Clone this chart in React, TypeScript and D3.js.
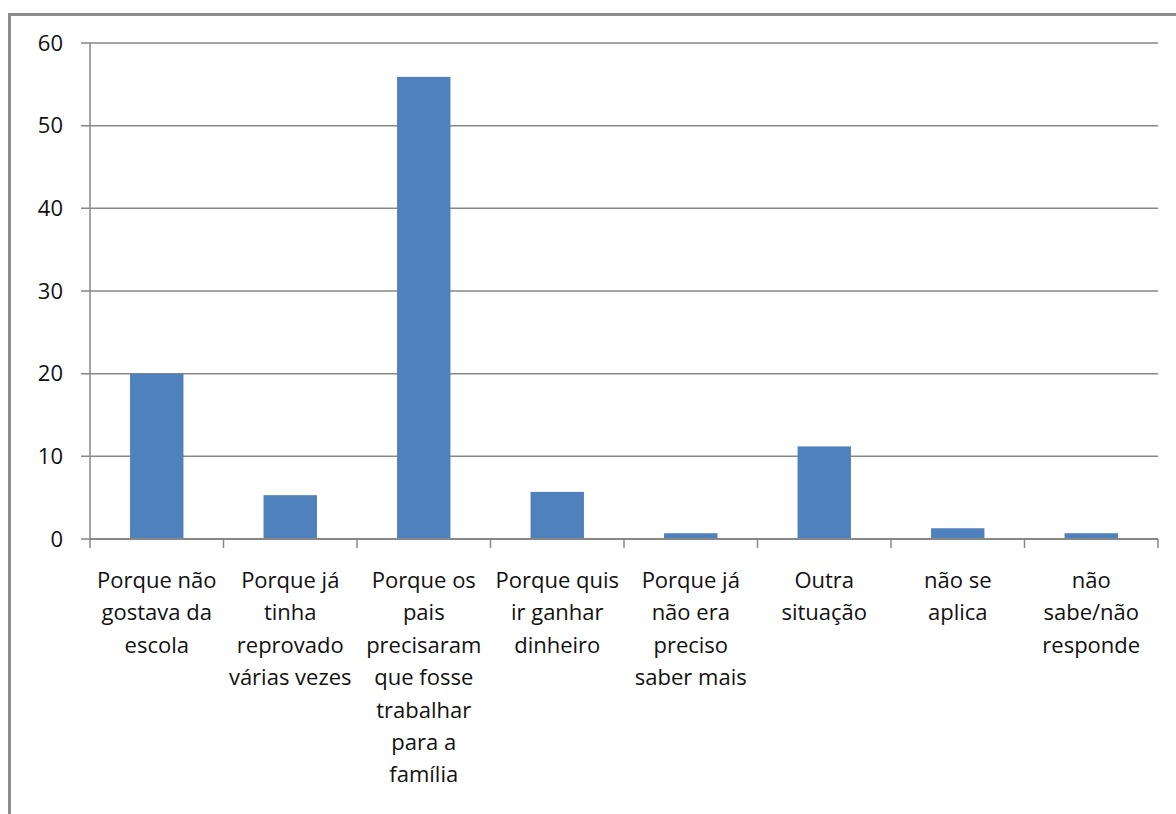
import React, { useEffect, useRef } from 'react';
import * as d3 from 'd3';

const categories: string[][] = [
  ['Porque não', 'gostava da', 'escola'],
  ['Porque já', 'tinha', 'reprovado', 'várias vezes'],
  ['Porque os', 'pais', 'precisaram', 'que fosse', 'trabalhar', 'para a', 'família'],
  ['Porque quis', 'ir ganhar', 'dinheiro'],
  ['Porque já', 'não era', 'preciso', 'saber mais'],
  ['Outra', 'situação'],
  ['não se', 'aplica'],
  ['não', 'sabe/não', 'responde'],
];
const values = [20, 5.3, 55.9, 5.7, 0.7, 11.2, 1.3, 0.7];
const yTicks = [0, 10, 20, 30, 40, 50, 60];

const W = 1176;
const H = 814;

const App: React.FC = () => {
  const svgRef = useRef<SVGSVGElement>(null);

  useEffect(() => {
    document.body.style.margin = '0';
    if (!svgRef.current) return;
    const svg = d3.select(svgRef.current);
    svg.selectAll('*').remove();

    const margin = { top: 43, right: 18, bottom: 275, left: 90 };
    const width = W - margin.left - margin.right;
    const height = H - margin.top - margin.bottom;
    const font = '"Open Sans", sans-serif';
    const gray = '#878787';

    svg.attr('width', W).attr('height', H);

    // outer chart frame (cut off at right/bottom)
    svg.append('path')
      .attr('d', `M9.5,${H} V14.5 H${W}`)
      .attr('fill', 'none')
      .attr('stroke', '#8c8c8c')
      .attr('stroke-width', 3);

    const g = svg.append('g').attr('transform', `translate(${margin.left},${margin.top})`);

    const x = d3.scaleBand<number>()
      .domain(d3.range(categories.length))
      .range([0, width])
      .paddingInner(0.6)
      .paddingOuter(0.3);

    const y = d3.scaleLinear().domain([0, 60]).range([height, 0]);

    // gridlines + left ticks
    g.append('g')
      .selectAll('line')
      .data(yTicks)
      .join('line')
      .attr('x1', -9)
      .attr('x2', width)
      .attr('y1', d => y(d))
      .attr('y2', d => y(d))
      .attr('stroke', gray)
      .attr('stroke-width', 1.5);

    g.append('g')
      .selectAll('text')
      .data(yTicks)
      .join('text')
      .attr('x', -27)
      .attr('y', d => y(d))
      .attr('dy', '0.35em')
      .attr('text-anchor', 'end')
      .style('font-family', font)
      .style('font-size', '22px')
      .style('fill', '#111')
      .text(d => d);

    // bars
    g.append('g')
      .selectAll('rect')
      .data(values)
      .join('rect')
      .attr('x', (d, i) => x(i)!)
      .attr('width', x.bandwidth())
      .attr('y', d => y(d))
      .attr('height', d => height - y(d))
      .attr('fill', '#4f81bd');

    // y axis line
    g.append('line')
      .attr('x1', 0).attr('x2', 0)
      .attr('y1', 0).attr('y2', height)
      .attr('stroke', gray)
      .attr('stroke-width', 1.5);

    // x axis line and category ticks
    g.append('line')
      .attr('x1', 0).attr('x2', width)
      .attr('y1', height).attr('y2', height)
      .attr('stroke', gray)
      .attr('stroke-width', 2);

    const step = width / categories.length;
    g.append('g')
      .selectAll('line')
      .data(d3.range(categories.length + 1))
      .join('line')
      .attr('x1', d => d * step)
      .attr('x2', d => d * step)
      .attr('y1', height)
      .attr('y2', height + 9)
      .attr('stroke', gray)
      .attr('stroke-width', 1.5);

    // category labels
    const labels = g.append('g')
      .selectAll('text')
      .data(categories)
      .join('text')
      .attr('transform', (d, i) => `translate(${x(i)! + x.bandwidth() / 2},${height + 49})`)
      .attr('text-anchor', 'middle')
      .style('font-family', font)
      .style('font-size', '22px')
      .style('fill', '#111');

    labels.selectAll('tspan')
      .data(d => d)
      .join('tspan')
      .attr('x', 0)
      .attr('y', (d, i) => i * 32.4)
      .text(d => d);
  }, []);

  return (
    <div>
      <svg ref={svgRef}></svg>
    </div>
  );
};

export default App;
